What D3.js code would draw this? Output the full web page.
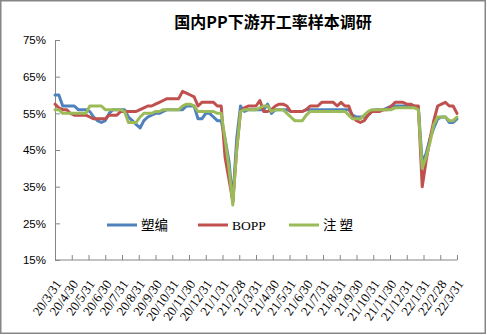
<!DOCTYPE html>
<html><head><meta charset="utf-8">
<script src="https://cdn.jsdelivr.net/npm/d3@7"></script>
<style>body{margin:0;background:#fff}svg{display:block}</style>
</head><body>
<script>
const title = "国内PP下游开工率样本调研";
const monthLabels = ["20/3/31","20/4/30","20/5/31","20/6/30","20/7/31","20/8/31","20/9/30","20/10/31","20/11/30","20/12/31","21/1/31","21/2/28","21/3/31","21/4/30","21/5/31","21/6/30","21/7/31","21/8/31","21/9/30","21/10/31","21/11/30","21/12/31","22/1/31","22/2/28","22/3/31"];
const yTicks = [15,25,35,45,55,65,75];
const seriesNames = ["塑编","BOPP","注 塑"];
const suBian = [60,60,57,57,57,57,56,56,56,55.5,54,53,52.5,53,55,56,56,56,56,54,53,52,51,53,54,54.5,55,55,55.5,56,56,56,56,56,57,57,57,53.5,53.5,55,55,54,53,53,48,42,31,48,57,55.5,56,56,56,56,56,57.5,55,56,56,56,56,55.5,55.5,55.5,55.5,56,56,56,56,56,56,56,56,56,56,56,56,54.5,54,54,54,54.5,55.5,56,56,56,56.5,57,57,57,57,57,57,57,56.5,41.5,44,48,51,53.5,54,54,52.5,52.5,53.5];
const bopp = [57.5,56.5,56,56,55,54.5,54.5,54.5,54.5,54,53.5,53.5,53.5,53.5,54.5,54.5,54.5,55.5,55.5,55.5,55.5,55.5,56,56.5,57,57,57.5,58,58.5,59,59,59,59,61,60.5,60,59.5,57,58,58,58,58,57,57,43,37,31,45,55.5,56.5,57,57,57,58.5,55.5,55.5,56,57,57.5,57.5,57,55.5,55.5,55.5,55.5,56,57,57,57,58,58,58,58,57,58,57,57,54,53,52.5,53,54.5,55.5,55.5,55.5,56,56,57,58,58,58,57.5,57.5,57,57,35,42,48,53,57,57.5,58,57,57,55];
const zhuSu = [56,56,55,55,55,55,55,55,55,57,57,57,57,56,56,56,56,56,55.5,52.5,52.5,52.5,54,55,55,55,55.5,55.5,56,56,56,56,56,57,57.5,57.5,57,55.5,55.5,55.5,55.5,55.5,55,55,48,40,30,45,55.5,56,56,56,56,56.5,57,57,55.5,56,56,56,55,54,53,53,53,54.5,55.5,55.5,55.5,55.5,55.5,55.5,55.5,55.5,55.5,55.5,54.5,53.5,53.5,53.5,54.5,55.5,56,56,56,56,56,56,56.5,56.5,56.5,56.5,56.5,56.5,56,40,43,47,52,54,54,54,53,53,54];
const colors = ["#4F81BD","#C0504D","#9BBB59"];

const W=487,H=335;
const svg=d3.select("body").append("svg").attr("width",W).attr("height",H);
svg.append("rect").attr("x",0.75).attr("y",0.75).attr("width",484.5).attr("height",332.5)
  .attr("fill","#fff").attr("stroke","#868686").attr("stroke-width",1.5);

const L=55,R=457,T=40,B=260;
const y=d3.scaleLinear().domain([15,75]).range([B,T]);
const xLab=d3.scalePoint().domain(monthLabels).range([L,R]);
const n=suBian.length;
const x=d3.scaleLinear().domain([0,n-1]).range([L,R]);

svg.append("text").attr("x",273).attr("y",28).attr("text-anchor","middle")
  .attr("font-family","'Noto Sans CJK SC'").attr("font-weight","bold").attr("font-size",16)
  .text(title);

// y axis
const ya=svg.append("g").attr("transform",`translate(${L},0)`)
  .call(d3.axisLeft(y).tickValues(yTicks).tickFormat(d=>d+"%").tickSizeInner(-5).tickSizeOuter(0).tickPadding(9));
ya.select(".domain").attr("stroke","#868686");
ya.selectAll(".tick line").attr("stroke","#868686");
ya.selectAll("text").attr("font-family","'Liberation Sans',Arial").attr("font-size",11.5).attr("fill","#000");

// x axis (ticks only), labels drawn separately
const xa=svg.append("g").attr("transform",`translate(0,${B})`)
  .call(d3.axisBottom(xLab).tickSizeInner(-5).tickSizeOuter(0).tickFormat(""));
xa.select(".domain").attr("stroke","#868686").attr("d",`M${L},0H${R}`);
xa.selectAll(".tick line").attr("stroke","#868686");
xa.selectAll(".tick text").remove();

svg.append("g").selectAll("text").data(monthLabels).join("text")
  .attr("transform",d=>`translate(${xLab(d)+7},${B+24}) rotate(-55)`)
  .attr("text-anchor","end")
  .attr("font-family","'Liberation Serif','Times New Roman'").attr("font-size",13).attr("fill","#000")
  .text(d=>d);

const line=d3.line().x((d,i)=>x(i)).y(d=>y(d)).curve(d3.curveLinear);
[suBian,bopp,zhuSu].forEach((s,k)=>{
  svg.append("path").datum(s).attr("d",line).attr("fill","none")
    .attr("stroke",colors[k]).attr("stroke-width",3).attr("stroke-linejoin","round").attr("stroke-linecap","round");
});

// legend
const legX=[107,198,289];
seriesNames.forEach((nm,k)=>{
  svg.append("line").attr("x1",legX[k]).attr("x2",legX[k]+30).attr("y1",225).attr("y2",225)
    .attr("stroke",colors[k]).attr("stroke-width",3);
  svg.append("text").attr("x",legX[k]+34).attr("y",230)
    .attr("font-family",k===1?"'Liberation Serif'":"'Noto Sans CJK SC'").attr("font-size",13.5).attr("fill","#000")
    .text(nm);
});
</script>
</body></html>
